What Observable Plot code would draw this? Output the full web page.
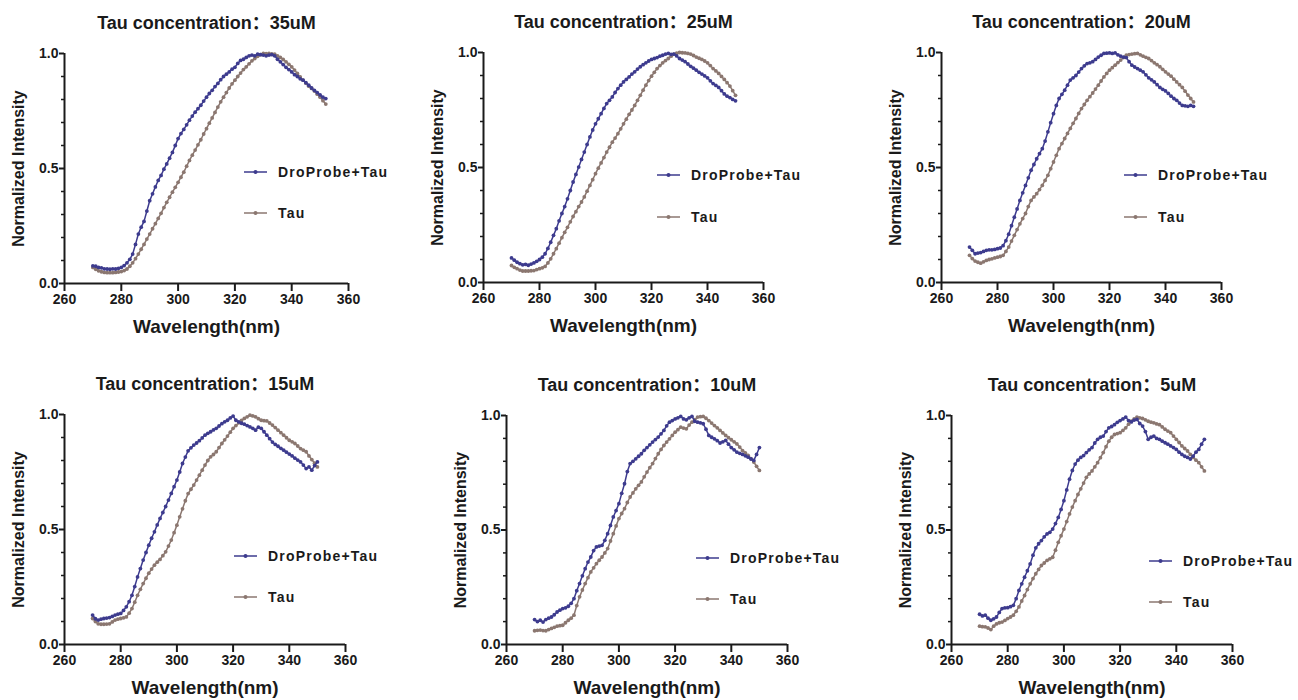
<!DOCTYPE html>
<html><head><meta charset="utf-8">
<script src="https://cdn.jsdelivr.net/npm/d3@7"></script>
<script src="https://cdn.jsdelivr.net/npm/@observablehq/plot@0.6"></script>
<style>
html,body{margin:0;padding:0;background:#fff;}
#chart{position:relative;width:1298px;height:700px;overflow:hidden;font-family:"Liberation Sans",Arial,"Noto Sans CJK SC",sans-serif;color:#1a1a1a;background:#fff;}
.lrow{position:absolute;height:18px;display:flex;align-items:center;white-space:nowrap;font-size:14px;font-weight:bold;letter-spacing:1.2px;color:#1a1a1a;}
.lrow span{margin-left:11px;}
</style></head><body><div id="chart"></div><script>
// ---- data ----
const wavelengths = [270,271,272,273,274,275,276,277,278,279,280,281,282,283,284,285,286,287,288,289,290,291,292,293,294,295,296,297,298,299,300,301,302,303,304,305,306,307,308,309,310,311,312,313,314,315,316,317,318,319,320,321,322,323,324,325,326,327,328,329,330,331,332,333,334,335,336,337,338,339,340,341,342,343,344,345,346,347,348,349,350];
const wavelengths35 = [270,271,272,273,274,275,276,277,278,279,280,281,282,283,284,285,286,287,288,289,290,291,292,293,294,295,296,297,298,299,300,301,302,303,304,305,306,307,308,309,310,311,312,313,314,315,316,317,318,319,320,321,322,323,324,325,326,327,328,329,330,331,332,333,334,335,336,337,338,339,340,341,342,343,344,345,346,347,348,349,350,351,352];

const probe35 = [
.077,.075,.070,.068,.064,.063,.062,.064,.063,.066,
.070,.078,.090,.105,.128,.170,.215,.245,.270,.315,
.360,.390,.420,.448,.470,.497,.520,.545,.570,.600,
.630,.652,.670,.690,.710,.728,.745,.760,.775,.793,
.810,.826,.840,.856,.870,.886,.900,.910,.920,.932,
.940,.957,.970,.975,.983,.990,.993,.990,.997,.995,
.993,.990,.993,.995,.990,.975,.964,.952,.940,.930,
.920,.908,.900,.890,.884,.873,.862,.850,.840,.830,
.820,.810,.804];
const tau35 = [
.070,.062,.055,.051,.048,.047,.047,.047,.048,.050,
.052,.056,.063,.075,.090,.108,.128,.149,.170,.193,
.215,.238,.260,.283,.305,.330,.353,.375,.397,.418,
.440,.462,.484,.510,.535,.558,.580,.603,.625,.650,
.673,.697,.720,.744,.767,.790,.810,.830,.850,.868,
.884,.900,.915,.930,.942,.955,.968,.978,.988,.995,
1.000,.999,1.000,.998,.997,.990,.983,.974,.964,.953,
.942,.928,.913,.898,.884,.871,.858,.848,.837,.823,
.810,.795,.780];

const probe25 = [
.107,.097,.088,.082,.077,.079,.075,.080,.085,.092,
.100,.110,.125,.148,.175,.205,.234,.268,.300,.330,
.364,.400,.437,.470,.502,.535,.567,.600,.633,.663,
.690,.712,.734,.757,.778,.792,.807,.826,.843,.858,
.872,.883,.894,.906,.916,.928,.938,.947,.955,.963,
.970,.974,.978,.984,.988,.993,.996,.992,.993,.985,
.974,.967,.960,.950,.940,.932,.923,.914,.906,.898,
.890,.877,.865,.857,.848,.834,.820,.810,.804,.796,
.790];
const tau25 = [
.074,.066,.060,.054,.050,.050,.050,.051,.052,.056,
.060,.064,.070,.085,.103,.125,.147,.171,.195,.218,
.240,.264,.287,.308,.330,.350,.372,.397,.422,.447,
.473,.497,.520,.543,.567,.588,.610,.628,.647,.668,
.690,.710,.731,.750,.770,.792,.814,.836,.858,.878,
.897,.914,.930,.943,.955,.965,.974,.984,.993,.997,
1.000,.999,.998,.996,.993,.987,.980,.975,.970,.963,
.955,.943,.930,.920,.909,.896,.883,.869,.854,.834,
.814];

const probe20 = [
.154,.140,.125,.128,.130,.135,.140,.142,.142,.144,
.147,.150,.160,.182,.210,.247,.284,.320,.357,.390,
.422,.455,.488,.513,.538,.560,.582,.615,.655,.695,
.734,.770,.800,.818,.836,.858,.880,.890,.900,.915,
.930,.942,.952,.955,.960,.970,.980,.988,.996,.997,
.998,.996,.998,.990,.984,.980,.978,.960,.945,.937,
.930,.923,.916,.903,.890,.881,.872,.860,.848,.840,
.833,.822,.810,.800,.792,.780,.770,.768,.766,.770,
.766];
const tau20 = [
.118,.104,.093,.088,.084,.090,.096,.100,.103,.107,
.110,.113,.118,.135,.154,.180,.205,.230,.255,.278,
.300,.330,.357,.372,.386,.404,.422,.444,.466,.495,
.524,.553,.582,.604,.626,.648,.670,.692,.713,.735,
.756,.774,.792,.808,.824,.841,.858,.876,.894,.909,
.923,.934,.945,.956,.967,.978,.988,.991,.993,.995,
.996,.990,.984,.979,.974,.965,.955,.947,.938,.927,
.916,.906,.897,.884,.872,.860,.848,.832,.815,.800,
.785];

const probe15 = [
.128,.112,.106,.110,.113,.115,.117,.122,.128,.132,
.135,.148,.164,.186,.214,.252,.294,.330,.367,.400,
.432,.462,.490,.520,.548,.574,.600,.628,.657,.686,
.715,.750,.787,.815,.842,.855,.867,.876,.886,.898,
.910,.918,.925,.933,.940,.950,.960,.968,.975,.985,
.993,.975,.968,.962,.958,.952,.946,.940,.932,.945,
.940,.925,.910,.895,.880,.870,.862,.853,.845,.836,
.828,.820,.810,.802,.794,.780,.765,.772,.758,.778,
.794];
const tau15 = [
.113,.100,.090,.088,.088,.089,.090,.098,.106,.110,
.113,.116,.120,.136,.156,.184,.214,.240,.265,.288,
.310,.328,.345,.358,.370,.386,.403,.428,.454,.486,
.519,.555,.590,.625,.656,.675,.693,.715,.736,.758,
.780,.800,.816,.826,.838,.856,.874,.890,.906,.923,
.940,.952,.964,.974,.983,.990,.997,.994,.990,.982,
.975,.973,.972,.963,.954,.943,.932,.921,.910,.899,
.888,.881,.874,.863,.852,.845,.838,.820,.804,.788,
.772];

const probe10 = [
.109,.100,.106,.098,.109,.115,.120,.130,.142,.150,
.157,.160,.167,.180,.200,.235,.266,.300,.331,.360,
.382,.410,.426,.430,.433,.455,.484,.520,.557,.585,
.615,.660,.702,.755,.790,.800,.811,.822,.833,.848,
.860,.872,.884,.895,.906,.920,.935,.955,.971,.978,
.985,.990,.996,.985,.981,.990,.996,.975,.971,.968,
.964,.940,.913,.905,.898,.890,.880,.885,.891,.875,
.860,.850,.840,.835,.830,.824,.818,.810,.804,.830,
.860];
const tau10 = [
.060,.062,.063,.061,.060,.065,.070,.075,.080,.082,
.084,.095,.106,.115,.128,.170,.208,.238,.266,.292,
.317,.335,.353,.368,.382,.400,.419,.452,.484,.518,
.550,.572,.593,.620,.644,.662,.680,.695,.710,.732,
.753,.772,.790,.812,.833,.852,.869,.884,.898,.913,
.927,.938,.949,.945,.942,.958,.971,.982,.993,.995,
.996,.988,.978,.967,.956,.946,.935,.924,.913,.903,
.894,.885,.876,.862,.847,.837,.826,.812,.797,.778,
.760];

const probe5 = [
.132,.125,.128,.115,.106,.112,.120,.140,.157,.160,
.161,.165,.171,.200,.236,.265,.294,.322,.352,.390,
.422,.440,.454,.470,.483,.490,.504,.528,.555,.590,
.628,.675,.722,.760,.788,.805,.817,.825,.838,.850,
.860,.880,.896,.905,.910,.930,.946,.952,.960,.970,
.978,.985,.993,.978,.972,.980,.983,.965,.954,.930,
.896,.905,.910,.900,.896,.888,.881,.875,.867,.860,
.852,.840,.830,.822,.817,.810,.823,.840,.852,.875,
.896];
const tau5 = [
.080,.078,.077,.072,.065,.080,.090,.095,.098,.105,
.113,.120,.128,.145,.164,.190,.214,.240,.265,.288,
.309,.328,.345,.356,.367,.374,.381,.412,.446,.475,
.504,.537,.570,.600,.628,.655,.680,.705,.730,.745,
.758,.776,.794,.816,.838,.864,.888,.905,.917,.921,
.925,.935,.946,.962,.975,.985,.993,.990,.987,.981,
.975,.971,.968,.963,.960,.950,.940,.932,.925,.910,
.896,.882,.867,.856,.845,.830,.817,.805,.794,.776,
.758];

const titles = ["Tau concentration：35uM","Tau concentration：25uM","Tau concentration：20uM",
                "Tau concentration：15uM","Tau concentration：10uM","Tau concentration：5uM"];
const seriesNames = ["DroProbe+Tau","Tau"];
const xTicks = [260,280,300,320,340,360];
const yMajor = [0,0.5,1.0];
const yMinor = [0.1,0.2,0.3,0.4,0.6,0.7,0.8,0.9];
const xLabel = "Wavelength(nm)";
const yLabel = "Normalized Intensity";

const probeColor = "#3d3b8e";
const tauColor = "#8b7770";

const panelData = [
  {x: wavelengths35, probe: probe35, tau: tau35},
  {x: wavelengths, probe: probe25, tau: tau25},
  {x: wavelengths, probe: probe20, tau: tau20},
  {x: wavelengths, probe: probe15, tau: tau15},
  {x: wavelengths, probe: probe10, tau: tau10},
  {x: wavelengths, probe: probe5, tau: tau5}
];

// ---- layout (frame boxes in page pixels) ----
const frames = [
  {left:64,  right:348,  top:53,  bottom:283, legX:244,  legY:[172,213]},
  {left:483, right:763,  top:52,  bottom:282, legX:657,  legY:[175,217]},
  {left:941, right:1221, top:52,  bottom:282, legX:1124, legY:[175,217]},
  {left:64,  right:345,  top:414, bottom:644, legX:234,  legY:[556,597]},
  {left:506, right:787,  top:415, bottom:644, legX:696,  legY:[558,599]},
  {left:951, right:1232, top:415, bottom:644, legX:1149, legY:[561,602]}
];

const chart = document.getElementById("chart");
const ML = 64, MT = 53, MR = 60, MB = 60;
const font = '"Liberation Sans", Arial, "Noto Sans CJK SC", sans-serif';

panelData.forEach((p, i) => {
  const f = frames[i];
  const n = Math.min(p.x.length, p.probe.length, p.tau.length);
  const probeRows = [], tauRows = [];
  for (let k = 0; k < n; k++) {
    probeRows.push({x: p.x[k], y: p.probe[k]});
    tauRows.push({x: p.x[k], y: p.tau[k]});
  }
  const w = f.right - f.left + ML + MR;
  const h = f.bottom - f.top + MT + MB;
  const svg = Plot.plot({
    width: w, height: h,
    marginLeft: ML, marginRight: MR, marginTop: MT, marginBottom: MB,
    x: {domain: [260, 360]},
    y: {domain: [0, 1]},
    style: {fontFamily: font, fontSize: "14px", fontWeight: "bold", color: "#1a1a1a", background: "white", overflow: "visible"},
    marks: [
      Plot.axisX({ticks: xTicks, tickSize: 8, tickPadding: 3, strokeWidth: 2, fontSize: 14, fontWeight: "bold", label: null, tickFormat: d => String(d)}),
      Plot.axisY({ticks: yMajor, tickSize: 5, tickPadding: 1, strokeWidth: 2, fontSize: 14, fontWeight: "bold", label: null, tickFormat: d3.format(".1f")}),
      Plot.axisY({ticks: yMinor, tickSize: 3, strokeWidth: 1.5, text: null, label: null}),
      Plot.ruleY([0], {strokeWidth: 2}),
      Plot.ruleX([260], {strokeWidth: 2}),
      Plot.line(tauRows, {x: "x", y: "y", stroke: tauColor, strokeWidth: 1.5}),
      Plot.dot(tauRows, {x: "x", y: "y", r: 1.9, fill: tauColor}),
      Plot.line(probeRows, {x: "x", y: "y", stroke: probeColor, strokeWidth: 1.5}),
      Plot.dot(probeRows, {x: "x", y: "y", r: 1.9, fill: probeColor}),
      Plot.text([titles[i]], {frameAnchor: "top", textAnchor: "middle", lineAnchor: "middle", dy: -30, fontSize: 18, text: d => d}),
      Plot.text([yLabel], {frameAnchor: "left", textAnchor: "middle", lineAnchor: "middle", rotate: -90, dx: -46, fontSize: 16, text: d => d}),
      Plot.text([xLabel], {frameAnchor: "bottom", textAnchor: "middle", lineAnchor: "middle", dy: 43, fontSize: 19, text: d => d})
    ]
  });
  svg.style.position = "absolute";
  svg.style.left = (f.left - ML) + "px";
  svg.style.top = (f.top - MT) + "px";
  svg.style.maxWidth = "none";
  chart.appendChild(svg);

  // legend
  [[seriesNames[0], probeColor], [seriesNames[1], tauColor]].forEach(([name, color], j) => {
    const row = document.createElement("div");
    row.className = "lrow";
    row.style.left = f.legX + "px";
    row.style.top = (f.legY[j] - 9) + "px";
    row.innerHTML = `<svg width="23" height="18" style="display:block"><line x1="0" x2="23" y1="9" y2="9" stroke="${color}" stroke-width="1.5"/><circle cx="11.5" cy="9" r="2" fill="${color}"/></svg><span>${name}</span>`;
    chart.appendChild(row);
  });
});
</script></body></html>
